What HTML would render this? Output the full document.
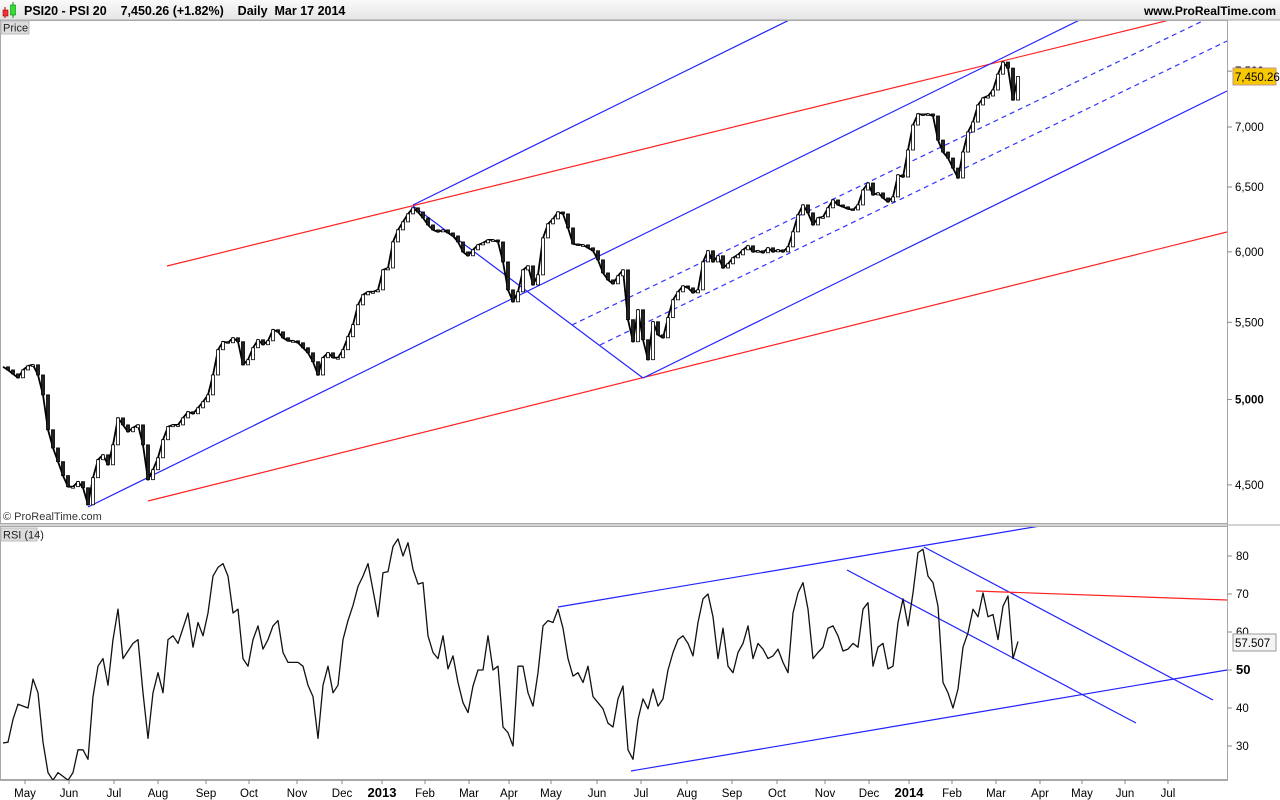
<!DOCTYPE html>
<html><head><meta charset="utf-8">
<style>
body{margin:0;background:#fff;font-family:"Liberation Sans",sans-serif;}
svg{display:block}
</style></head>
<body>
<svg id="chart" width="1280" height="800" viewBox="0 0 1280 800" xmlns="http://www.w3.org/2000/svg" font-family="Liberation Sans, sans-serif">
  <defs>
    <linearGradient id="hdr" x1="0" y1="0" x2="0" y2="1"><stop offset="0" stop-color="#fafafa"/><stop offset="1" stop-color="#e4e4e4"/></linearGradient>
    <clipPath id="pclip"><rect x="1" y="21" width="1226" height="502"/></clipPath>
    <clipPath id="rclip"><rect x="1" y="527" width="1226" height="253"/></clipPath>
  </defs>
  <rect x="0" y="0" width="1280" height="20" fill="url(#hdr)"/>
  <line x1="0" y1="20" x2="1280" y2="20" stroke="#a8a8a8"/>
  <g>
    <line x1="5" y1="7" x2="5" y2="18" stroke="#a00"/><rect x="3" y="10" width="5" height="6" fill="#e33" stroke="#a00" stroke-width="0.6"/>
    <line x1="13" y1="2" x2="13" y2="18" stroke="#080"/><rect x="10.5" y="5" width="5" height="10" fill="#3d3" stroke="#080" stroke-width="0.6"/>
  </g>
  <text x="24" y="15" font-size="12.5" font-weight="bold" fill="#000">PSI20 - PSI 20 &#160;&#160; 7,450.26 (+1.82%) &#160;&#160; Daily &#160;Mar 17 2014</text>
  <text x="1276" y="15" font-size="12" font-weight="bold" text-anchor="end" fill="#000">www.ProRealTime.com</text>

  <!-- panel frames -->
  <rect x="0.5" y="20.5" width="1227" height="503" fill="none" stroke="#a8a8a8"/>
  <line x1="0" y1="525" x2="1280" y2="525" stroke="#a8a8a8"/>
  <rect x="0.5" y="526.5" width="1227" height="253" fill="none" stroke="#a8a8a8"/>
  <line x1="1227.5" y1="20" x2="1227.5" y2="780" stroke="#a8a8a8"/>
  <line x1="0" y1="780.5" x2="1228" y2="780.5" stroke="#a8a8a8"/>

  <rect x="1" y="21" width="28" height="13" fill="#dcdcdc" stroke="#bbb"/>
  <text x="3" y="31.5" font-size="11" fill="#222">Price</text>
  <rect x="1" y="528" width="36" height="13" fill="#dcdcdc" stroke="#bbb"/>
  <text x="3" y="538.5" font-size="11" fill="#222">RSI (14)</text>
  <text x="3" y="520" font-size="11" fill="#333">© ProRealTime.com</text>

  <g id="priceAxis"></g>
  <g id="rsiAxis"></g>
  <g id="xAxis"></g>

  <g clip-path="url(#pclip)" stroke-width="1.2" fill="none">
    <line x1="167" y1="266" x2="1300" y2="-12" stroke="#f22"/>
    <line x1="148" y1="501" x2="1227" y2="232" stroke="#f22"/>
    <line x1="413" y1="205" x2="830" y2="0" stroke="#22f"/>
    <line x1="88" y1="507" x2="1100" y2="10" stroke="#22f"/>
    <line x1="643" y1="378" x2="1227" y2="91" stroke="#22f"/>
    <line x1="413" y1="206" x2="643" y2="378" stroke="#22f"/>
    <line x1="572" y1="325" x2="1240" y2="3" stroke="#33f" stroke-dasharray="5,4"/>
    <line x1="600" y1="345" x2="1227" y2="41" stroke="#33f" stroke-dasharray="5,4"/>
  </g>
  <g id="priceSeries" clip-path="url(#pclip)"></g>

  <g clip-path="url(#rclip)" stroke-width="1.2" fill="none">
    <line x1="558" y1="607" x2="1040" y2="526" stroke="#22f"/>
    <line x1="631" y1="771" x2="1227" y2="670" stroke="#22f"/>
    <line x1="924" y1="547" x2="1213" y2="700" stroke="#22f"/>
    <line x1="847" y1="570" x2="1136" y2="723" stroke="#22f"/>
    <line x1="976" y1="591" x2="1227" y2="600" stroke="#f22"/>
  </g>
  <g id="rsiSeries" clip-path="url(#rclip)"></g>

  <rect x="1233" y="68" width="43" height="17" fill="#f8c800" stroke="#b99"/>
  <text x="1235" y="81" font-size="11.5" fill="#000">7,450.26</text>
  <rect x="1233" y="634" width="43" height="17" fill="#f4f4f4" stroke="#999"/>
  <text x="1235" y="647" font-size="11.5" fill="#000">57.507</text>
</svg>
<script>
const priceTicks=[4500,5000,5500,6000,6500,7000,7500];
const priceTickLabels=["4,500","5,000","5,500","6,000","6,500","7,000","7,500"];
const rsiTicks=[30,40,50,60,70,80];
const monthLabels=["May","Jun","Jul","Aug","Sep","Oct","Nov","Dec","2013","Feb","Mar","Apr","May","Jun","Jul","Aug","Sep","Oct","Nov","Dec","2014","Feb","Mar","Apr","May","Jun","Jul"];
const monthPos=[4.4,13.2,22.2,31,40.6,49.2,58.8,67.8,75.8,84.4,93.2,101.2,109.6,118.8,127.6,136.8,145.8,154.8,164.4,173.2,181.2,189.8,198.6,207.4,215.8,224.4,233];
const closes=[5206,5186,5161,5136,5186,5212,5219,5154,5029,4817,4710,4631,4552,4490,4490,4518,4484,4391,4540,4642,4670,4613,4728,4888,4846,4805,4829,4846,4728,4529,4585,4653,4758,4835,4846,4846,4888,4925,4913,4949,4986,5029,5154,5317,5370,5363,5396,5370,5219,5252,5330,5383,5350,5376,5450,5436,5396,5376,5376,5363,5330,5297,5239,5154,5265,5297,5265,5265,5317,5403,5484,5620,5690,5711,5711,5725,5868,5882,6074,6165,6226,6288,6335,6303,6257,6203,6165,6150,6165,6142,6119,6074,6000,5971,6015,6052,6067,6089,6089,6074,5926,5725,5641,5711,5868,5897,5760,5832,6104,6211,6249,6303,6288,6180,6059,6052,6052,6030,6008,5941,5846,5796,5768,5825,5868,5518,5370,5586,5383,5252,5504,5416,5396,5532,5655,5711,5753,5739,5704,5725,5926,6008,5926,5971,5882,5912,5956,5978,6015,6045,6000,6008,5993,6030,6000,6015,6000,6037,6150,6280,6358,6296,6203,6257,6265,6335,6397,6358,6343,6327,6319,6358,6476,6532,6437,6453,6413,6382,6421,6598,6581,6804,7017,7114,7105,7114,7096,6888,6787,6737,6654,6573,6787,6957,7043,7193,7255,7273,7327,7472,7584,7528,7237,7450];
const rsiValues=[30.8,31,37,41,40.5,40,47.6,44,31,23,21,23,22,21,23,29,29,26.5,43,51,53,46,58,66,53,55,57,58,44,32,44,49.3,44,58,59,57,61,65,56,62.5,59,65,74.7,77,78,74.7,65,66,53,51,58,61.6,55.5,58,61.6,63,54.6,52,52,52,51,46,43,32,46,51,44,46,58,63,67,72,74.7,78,71,64,75.6,75.9,82.5,84.5,80,83.5,76.5,72.6,73,59,54.6,53,59,50.3,53.7,46.7,41.4,38.8,45.8,50,50,59,50,51,35,33.5,30,51,51,44,40.5,49.3,61.6,63,62.5,66,61,53,48.4,49.3,46.7,51,43,41.4,39.8,36,35,42.4,45.8,29,26.5,37,42.4,39.8,45,40.5,42.4,50,54.6,58,59,57,53.7,62.5,68.7,70,64,53,61,51,49.3,54.6,57,61.6,53,57,55.5,53,53.7,55.5,52,49.3,65,70.3,73,66,53,54.6,56,61,61.6,59,55,55.5,57,56,66,67.7,51,56,57,50.3,51,62.5,68.7,61.6,70.3,80.9,81.8,74.7,73,66.8,46.7,44,40,45,56,59.8,66,64,70.3,64,64.6,58,66.8,69.5,53,57.5];

const NS="http://www.w3.org/2000/svg";
const svg=document.getElementById('chart');
// scales
function xIdx(i){return 3+5*i;}
function xMonth(m){return 3+5*m;} // month positions in same 5px-step index units
function yPrice(p){return 127-Math.log(p/7000)*810;}
function yRsi(v){return 670-(v-50)*3.8;}
function mk(tag,attrs,parent){const e=document.createElementNS(NS,tag);for(const k in attrs)e.setAttribute(k,attrs[k]);parent.appendChild(e);return e;}

const pa=document.getElementById('priceAxis');
priceTicks.forEach((t,i)=>{
  const y=yPrice(t);
  const tk=mk('line',{x1:1227,y1:y,x2:1232,y2:y,stroke:'#888'},pa);
  
  
  const tx=mk('text',{x:1235,y:y+4,'font-size':11.5,fill:'#000','font-weight':t===5000?'bold':'normal'},pa);
  tx.textContent=priceTickLabels[i];
  
  
});
const ra=document.getElementById('rsiAxis');
rsiTicks.forEach(t=>{
  const y=yRsi(t);
  const tk=mk('line',{x1:1227,y1:y,x2:1232,y2:y,stroke:'#888'},ra);
  
  
  const tx=mk('text',{x:1236,y:y+4,'font-size':t===50?13:11.5,fill:'#000','font-weight':t===50?'bold':'normal'},ra);
  tx.textContent=String(t);
  
  
});
const xa=document.getElementById('xAxis');
monthLabels.forEach((m,i)=>{
  const x=xMonth(monthPos[i]);
  const tk=mk('line',{x1:x,y1:780,x2:x,y2:784,stroke:'#888'},xa);
  
  
  const bold=/^\d{4}$/.test(m);
  const tx=mk('text',{x:x,y:797,'font-size':bold?13:11.5,'font-weight':bold?'bold':'normal','text-anchor':'middle',fill:'#000'},xa);
  tx.textContent=m;
  
  
});

const ps=document.getElementById('priceSeries');
const pl=mk('polyline',{points:closes.map((c,i)=>xIdx(i)+','+yPrice(c).toFixed(1)).join(' '),fill:'none',stroke:'#000','stroke-width':1.8,'stroke-linejoin':'round'},ps);


closes.forEach((c,i)=>{
  if(i===0)return;
  const y1=yPrice(closes[i-1]),y2=yPrice(c);
  const b=mk('rect',{x:xIdx(i)-1.5,y:Math.min(y1,y2),width:3,height:Math.max(1.5,Math.abs(y2-y1)),fill:c<closes[i-1]?'#222':'#fff',stroke:'#000','stroke-width':0.8},ps);
  
  
});
const rs=document.getElementById('rsiSeries');
const rl=mk('polyline',{points:rsiValues.map((v,i)=>xIdx(i)+','+yRsi(v).toFixed(1)).join(' '),fill:'none',stroke:'#111','stroke-width':1.3,'stroke-linejoin':'round'},rs);


</script>
</body></html>
